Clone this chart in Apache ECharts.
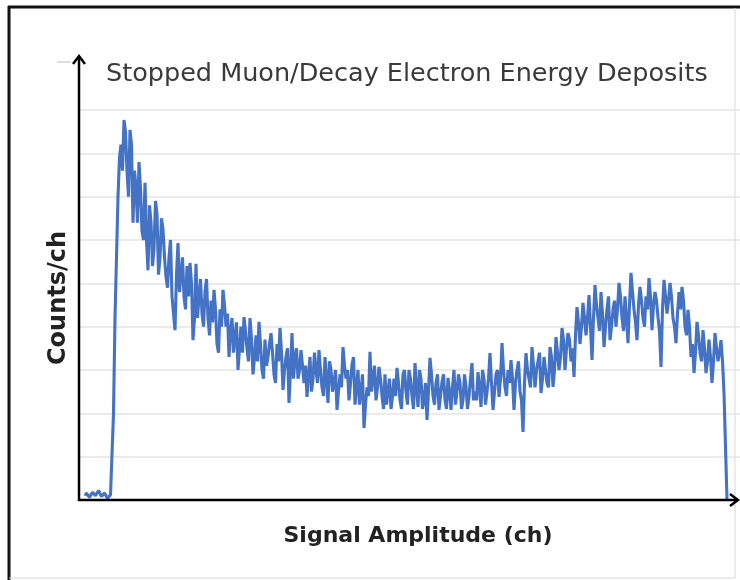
<!DOCTYPE html>
<html>
<head>
<meta charset="utf-8">
<script src="https://cdn.jsdelivr.net/npm/echarts@6/dist/echarts.min.js"></script>
<style>
  html, body { margin: 0; padding: 0; background: #fff; }
  #main { width: 740px; height: 580px; }
</style>
</head>
<body>
<div id="main"></div>
<script>
// spectrum: first channel, channel step, counts per step
var firstChannel = 6;
var channelStep = 3;
var counts = [
  10, 20, 8, 22, 12, 18, 6, 14, 8, 10,
  420, 700, 820, 877, 760, 854, 640, 720, 780, 620,
  732, 530, 640, 580, 660, 560, 625, 515, 560, 470,
  392, 593, 520, 470, 540, 547, 369, 545, 470, 430,
  480, 420, 460, 485, 360, 440, 485, 400, 330, 420,
  380, 300, 400, 422, 350, 420, 290, 380, 411, 300,
  370, 330, 385, 290, 360, 397, 254, 330, 224, 385,
  330, 280, 346, 270, 238, 330, 280, 300, 346, 260,
  330, 224, 300, 270, 208, 290, 353, 280, 230, 312,
  220, 300, 250, 166, 260, 342, 280, 230, 307, 240,
  290, 250, 210, 280, 305, 231, 290, 250, 300, 240,
  316, 215, 280, 230, 185, 328, 240, 270, 208, 272,
  230, 282, 208, 300, 250, 270, 231, 261, 240, 316,
  250, 295, 215, 280, 250, 339, 208, 290, 238, 362,
  260, 300, 323, 208, 300, 250, 157, 339, 280, 353,
  260, 320, 247, 330, 270, 353, 261, 376, 300, 397,
  300, 385, 320, 284, 445, 360, 455, 380, 473, 323,
  496, 420, 480, 353, 440, 369, 439, 400, 501, 420,
  470, 362, 524, 440, 369, 492, 420, 470, 512, 392,
  480, 422, 307, 508, 430, 501, 420, 362, 480, 492,
  400, 439, 330, 293, 411, 340, 392, 293, 370, 270,
  385, 320, 369, 247, 0
];
// readings half a step later (between the channels above)
var countsMid = [
  16, 6, 18, 10, 22, 8, 16, 4, 12, 200,
  560, 790, 760, 850, 700, 820, 760, 640, 720, 600,
  600, 680, 540, 690, 520, 650, 560, 490, 600, 430,
  520, 480, 560, 440, 470, 500, 420, 420, 510, 400,
  510, 380, 410, 440, 340, 400, 450, 430, 390, 340,
  410, 350, 340, 390, 320, 370, 330, 320, 360, 280,
  310, 360, 340, 270, 320, 340, 300, 350, 300, 280,
  350, 300, 310, 310, 290, 250, 340, 270, 300, 240,
  280, 320, 250, 300, 250, 260, 310, 300, 270, 330,
  260, 220, 290, 220, 240, 250, 310, 260, 280, 210,
  220, 280, 240, 240, 270, 210, 300, 220, 280, 210,
  260, 300, 210, 270, 250, 290, 220, 290, 240, 290,
  210, 250, 260, 220, 290, 210, 290, 210, 280, 230,
  230, 260, 300, 220, 280, 270, 250, 300, 280, 300,
  240, 270, 280, 270, 320, 230, 270, 300, 260, 310,
  300, 340, 280, 300, 260, 330, 300, 340, 330, 370,
  350, 370, 350, 380, 410, 400, 420, 420, 400, 420,
  450, 390, 430, 400, 470, 400, 460, 440, 470, 390,
  420, 450, 480, 410, 450, 460, 400, 440, 470, 450,
  460, 390, 440, 470, 460, 470, 400, 430, 440, 460,
  380, 400, 360, 340, 380, 320, 350, 320, 330, 320,
  350, 340, 320
];

var seriesData = [];
for (var i = 0; i < counts.length; i++) {
  seriesData.push([firstChannel + i * channelStep, counts[i]]);
  if (i < countsMid.length) {
    seriesData.push([firstChannel + i * channelStep + channelStep / 2, countsMid[i]]);
  }
}

var myChart = echarts.init(document.getElementById('main'), null, { renderer: 'canvas' });

var option = {
  backgroundColor: '#fff',
  animation: false,
  title: {
    text: 'Stopped Muon/Decay Electron Energy Deposits',
    left: 101,
    top: 56,
    textStyle: {
      fontFamily: 'DejaVu Sans',
      fontWeight: 'normal',
      fontSize: 25.5,
      color: '#3a3a3a'
    }
  },
  grid: { left: 79, top: 110, width: 661, height: 390 },
  xAxis: {
    type: 'value',
    min: 0,
    max: 661,
    axisLine: { show: false },
    axisTick: { show: false },
    axisLabel: { show: false },
    splitLine: { show: false }
  },
  yAxis: {
    type: 'value',
    min: 0,
    max: 900,
    interval: 100,
    axisLine: { show: false },
    axisTick: { show: false },
    axisLabel: { show: false },
    splitLine: { lineStyle: { color: '#e4e4e4', width: 1.5 } }
  },
  series: [{
    type: 'line',
    data: seriesData,
    showSymbol: false,
    lineStyle: { color: '#4472c4', width: 3.1 },
    z: 3
  }],
  graphic: [
    // picture frame
    { type: 'line', shape: { x1: 9, y1: 6, x2: 9, y2: 580 }, style: { stroke: '#111', lineWidth: 3 } },
    { type: 'line', shape: { x1: 8, y1: 7, x2: 740, y2: 7 }, style: { stroke: '#111', lineWidth: 3 } },
    { type: 'line', shape: { x1: 735, y1: 8, x2: 735, y2: 578 }, style: { stroke: '#d8d8d8', lineWidth: 1 } },
    { type: 'line', shape: { x1: 9, y1: 578, x2: 735, y2: 578 }, style: { stroke: '#d8d8d8', lineWidth: 1 } },
    // axis titles
    {
      type: 'text', x: 59, y: 298, rotation: Math.PI / 2,
      style: { text: 'Counts/ch', align: 'center', verticalAlign: 'middle',
        font: 'bold 24px "DejaVu Sans"', fill: '#222' }
    },
    {
      type: 'text', x: 418, y: 536,
      style: { text: 'Signal Amplitude (ch)', align: 'center', verticalAlign: 'middle',
        font: 'bold 22px "DejaVu Sans"', fill: '#222' }
    },
    // axes with arrow heads
    { type: 'line', shape: { x1: 57, y1: 62, x2: 71, y2: 62 }, style: { stroke: '#bbb', lineWidth: 1 } },
    { type: 'line', shape: { x1: 79, y1: 501, x2: 79, y2: 56 }, style: { stroke: '#000', lineWidth: 2.5 }, z: 10 },
    { type: 'polyline', shape: { points: [[73, 64], [79, 56], [85, 64]] }, style: { stroke: '#000', lineWidth: 2.5, fill: null }, z: 10 },
    { type: 'line', shape: { x1: 78, y1: 500, x2: 738, y2: 500 }, style: { stroke: '#000', lineWidth: 2.5 }, z: 10 },
    { type: 'polyline', shape: { points: [[730, 494], [738, 500], [730, 506]] }, style: { stroke: '#000', lineWidth: 2.5, fill: null }, z: 10 }
  ]
};

myChart.setOption(option);
</script>
</body>
</html>
